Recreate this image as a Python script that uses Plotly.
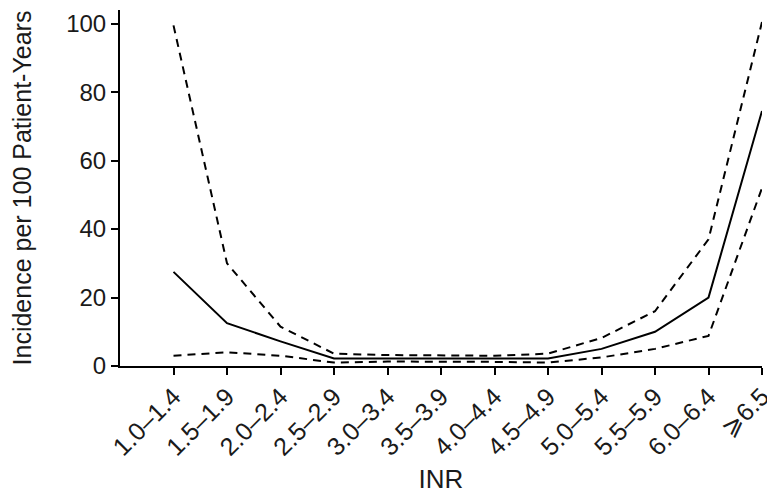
import plotly.graph_objects as go

categories = ["1.0–1.4", "1.5–1.9", "2.0–2.4", "2.5–2.9", "3.0–3.4", "3.5–3.9",
              "4.0–4.4", "4.5–4.9", "5.0–5.4", "5.5–5.9", "6.0–6.4", "⩾6.5"]
incidence = [27.5, 12.5, 7.2, 2.2, 2.2, 2.2, 2.2, 2.2, 5.0, 10.0, 20.0, 74.5]
upper_ci = [99.5, 30.0, 11.5, 3.6, 3.2, 3.0, 3.0, 3.6, 8.2, 16.0, 37.0, 100.5]
lower_ci = [3.0, 4.0, 3.0, 1.0, 1.3, 1.3, 1.2, 1.0, 2.5, 5.0, 8.8, 52.0]

fig = go.Figure()
dash = "8px,6px"
fig.add_trace(go.Scatter(x=categories, y=upper_ci, mode="lines",
                         line=dict(color="black", width=2, dash=dash)))
fig.add_trace(go.Scatter(x=categories, y=lower_ci, mode="lines",
                         line=dict(color="black", width=2, dash=dash)))
fig.add_trace(go.Scatter(x=categories, y=incidence, mode="lines",
                         line=dict(color="black", width=2)))

font = "Liberation Sans, Arial, sans-serif"
# the page body has an 8px margin, so the figure is sized to fit inside the window
fig.update_layout(
    template="none",
    width=767, height=486,
    margin=dict(l=112, r=13, t=2, b=128),
    plot_bgcolor="white", paper_bgcolor="white",
    showlegend=False,
    font=dict(family=font, size=24, color="#1a1a1a"),
    xaxis=dict(type="category", range=[-1, 11], showgrid=False, zeroline=False,
               automargin=False,
               showline=True, linecolor="black", linewidth=2,
               ticks="outside", ticklen=7, tickwidth=2, tickcolor="black",
               tickangle=-45, tickfont=dict(size=25), ticklabelstandoff=-3,
               title=dict(text="INR", font=dict(size=26), standoff=16)),
    yaxis=dict(range=[0, 104], showgrid=False, zeroline=False,
               automargin=False,
               showline=True, linecolor="black", linewidth=2,
               ticks="outside", ticklen=7, tickwidth=2, tickcolor="black",
               tickvals=[0, 20, 40, 60, 80, 100], tickfont=dict(size=24),
               title=dict(text="Incidence per 100 Patient-Years", font=dict(size=25), standoff=29)),
)
fig.write_html("out.html")
